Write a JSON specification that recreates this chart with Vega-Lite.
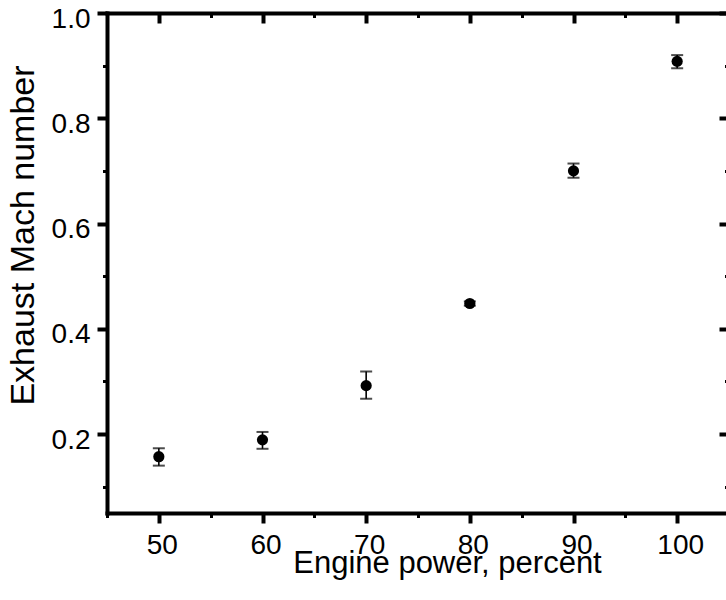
{
  "$schema": "https://vega.github.io/schema/vega-lite/v6.json",
  "autosize": "none",
  "width": 622,
  "height": 500,
  "padding": {"left": 107, "top": 13, "right": -3, "bottom": 87},
  "background": "white",
  "config": {
    "view": {"stroke": null},
    "axis": {"grid": false, "domainColor": "black", "tickColor": "black", "labelColor": "black", "titleColor": "black", "labelFont": "Liberation Sans", "titleFont": "Liberation Sans", "titleFontWeight": "normal", "domainWidth": 4, "domainCap": "square", "tickCap": "butt"}
  },
  "data": {"values": [
    {"power": 50, "mach": 0.157, "lo": 0.140, "hi": 0.173},
    {"power": 60, "mach": 0.189, "lo": 0.172, "hi": 0.204},
    {"power": 70, "mach": 0.292, "lo": 0.267, "hi": 0.319},
    {"power": 80, "mach": 0.448, "lo": 0.444, "hi": 0.452},
    {"power": 90, "mach": 0.700, "lo": 0.687, "hi": 0.714},
    {"power": 100, "mach": 0.908, "lo": 0.895, "hi": 0.920}
  ]},
  "resolve": {"axis": {"x": "independent", "y": "independent"}},
  "layer": [
    {
      "mark": {"type": "errorbar", "ticks": {"size": 12, "thickness": 2, "color": "black"}, "rule": {"strokeWidth": 1.6, "color": "black"}},
      "encoding": {
        "x": {"field": "power", "type": "quantitative", "scale": {"domain": [45, 105], "nice": false, "zero": false},
              "axis": {"orient": "bottom", "values": [45, 55, 65, 75, 85, 95, 105], "labels": false, "domain": false, "title": null, "tickSize": 4.5, "tickWidth": 3}},
        "y": {"field": "lo", "type": "quantitative", "scale": {"domain": [0.05, 1.0], "nice": false, "zero": false},
              "axis": {"orient": "left", "values": [0.1, 0.3, 0.5, 0.7, 0.9], "labels": false, "domain": false, "title": null, "tickSize": 4.5, "tickWidth": 3}},
        "y2": {"field": "hi"}
      }
    },
    {
      "mark": {"type": "point", "filled": true, "shape": "circle", "size": 125, "color": "black", "opacity": 1},
      "encoding": {
        "x": {"field": "power", "type": "quantitative",
              "axis": {"orient": "bottom", "values": [50, 60, 70, 80, 90, 100], "tickSize": 10, "tickWidth": 4, "labelFontSize": 28, "labelPadding": 8, "labelOffset": 3, "labelFlush": false,
                       "title": "Engine power, percent", "titleFontSize": 31, "titleX": 340, "titleY": 59, "titleBaseline": "alphabetic", "titleAnchor": null}},
        "y": {"field": "mach", "type": "quantitative",
              "axis": {"orient": "left", "values": [0.2, 0.4, 0.6, 0.8, 1.0], "format": ".1f", "tickSize": 10, "tickWidth": 4, "labelFontSize": 28, "labelPadding": 7, "labelOffset": 6, "labelFlush": false, "labelBaseline": "middle",
                       "title": "Exhaust Mach number", "titleFontSize": 34, "titleX": -74, "titleY": 222, "titleBaseline": "alphabetic", "titleAlign": "center", "titleAngle": -90}}
      }
    },
    {
      "mark": {"type": "point", "filled": true, "opacity": 0},
      "encoding": {
        "x": {"field": "power", "type": "quantitative",
              "axis": {"orient": "top", "values": [50, 60, 70, 80, 90, 100], "labels": false, "title": null, "tickSize": -10, "tickWidth": 4}},
        "y": {"field": "mach", "type": "quantitative",
              "axis": {"orient": "right", "values": [0.2, 0.4, 0.6, 0.8, 1.0], "labels": false, "title": null, "tickSize": -10, "tickWidth": 4}}
      }
    },
    {
      "mark": {"type": "point", "filled": true, "opacity": 0},
      "encoding": {
        "x": {"field": "power", "type": "quantitative",
              "axis": {"orient": "top", "values": [45, 55, 65, 75, 85, 95, 105], "labels": false, "domain": false, "title": null, "tickSize": -4.5, "tickWidth": 3}},
        "y": {"field": "mach", "type": "quantitative",
              "axis": {"orient": "right", "values": [0.1, 0.3, 0.5, 0.7, 0.9], "labels": false, "domain": false, "title": null, "tickSize": -4.5, "tickWidth": 3}}
      }
    }
  ]
}
